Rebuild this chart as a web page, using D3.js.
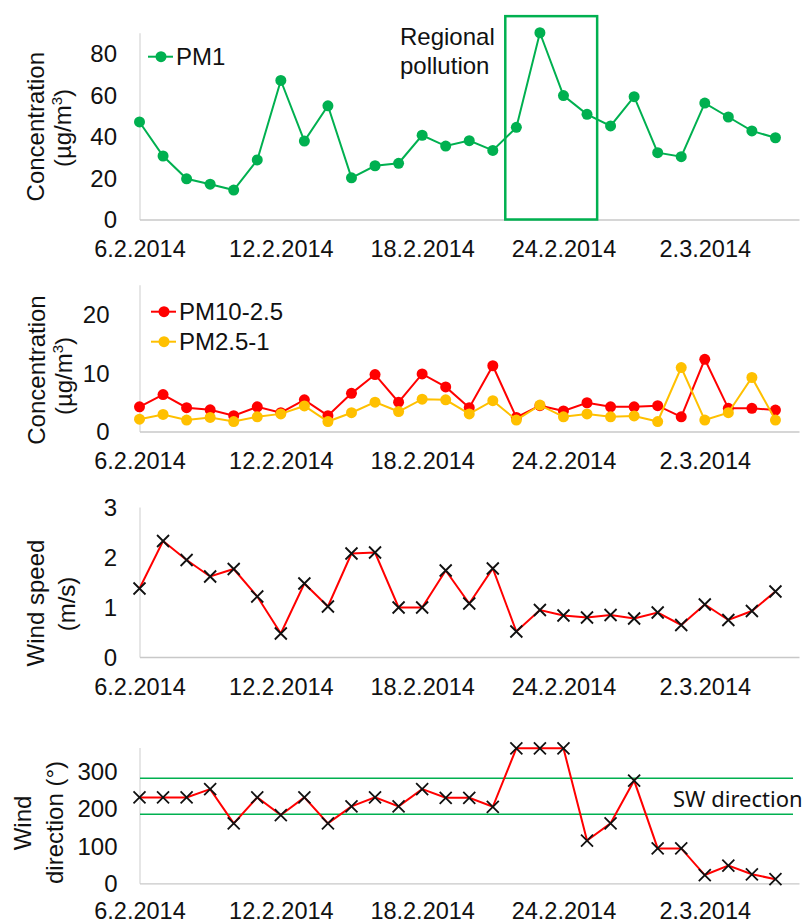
<!DOCTYPE html>
<html>
<head>
<meta charset="utf-8">
<script src="https://cdn.jsdelivr.net/npm/d3@7"></script>
<style>
  body { margin: 0; background: #fff; }
  svg text { font-family: "Liberation Sans", Arial, sans-serif; fill: #111; }
</style>
</head>
<body>
<div id="chart"></div>
<script>
// categories: one value per day, 6.2.2014 - 5.3.2014
var dates = d3.timeDays(new Date(2014, 1, 6), new Date(2014, 2, 6));
var tickLabels = ["6.2.2014", "12.2.2014", "18.2.2014", "24.2.2014", "2.3.2014"];

var pm1 = [47, 30.6, 19.6, 17, 14.2, 28.7, 67, 37.8, 54.8, 20.1, 25.9, 27.1, 40.6, 35.4,
  38, 33.3, 44.4, 90, 59.7, 50.7, 45.1, 59.2, 32.2, 30.3, 56.1, 49.4, 42.7, 39.4];
var pm10_25 = [4.2, 6.3, 4.05, 3.7, 2.7, 4.2, 3.2, 5.4, 2.7, 6.5, 9.7, 5, 9.8, 7.6,
  4.05, 11.2, 2.4, 4.4, 3.5, 4.9, 4.2, 4.2, 4.4, 2.5, 12.3, 3.95, 3.95, 3.65];
var pm25_1 = [2.1, 2.9, 1.95, 2.4, 1.7, 2.5, 3, 4.35, 1.7, 3.2, 5, 3.4, 5.5, 5.4,
  3, 5.25, 1.95, 4.5, 2.5, 3, 2.5, 2.65, 1.7, 10.9, 1.95, 3.2, 9.2, 1.95];
var windSpeed = [1.37, 2.32, 1.94, 1.61, 1.76, 1.21, 0.47, 1.47, 1.01, 2.07, 2.09, 0.99, 0.99, 1.73,
  1.07, 1.77, 0.51, 0.94, 0.83, 0.79, 0.84, 0.77, 0.89, 0.64, 1.05, 0.74, 0.92, 1.31];
var windDir = [229, 229, 229, 251, 160, 229, 182, 229, 160, 205, 229, 205, 251, 228,
  228, 204, 360, 360, 360, 114, 160, 274, 93, 93, 22, 47, 24, 11];

// regional pollution box (day index from, day index to, top value) and SW band (degrees)
var regionBox = [15.53, 19.43, 98];
var swBand = [184, 280];

var green = "#00b050", red = "#ff0000", yellow = "#ffc000", grid = "#d9d9d9";

var svg = d3.select("#chart").append("svg")
  .attr("width", 808)
  .attr("height", 924);

var parse = d3.timeParse("%d.%m.%Y");
var fmt = d3.timeFormat("%-d.%-m.%Y");

var x = d3.scaleTime()
  .domain([new Date(2014, 1, 6), new Date(2014, 2, 6)])
  .range([139.5, 799]);

var panels = [
  { name: "pm1", domain: [0, 90], range: [219.5, 32.75], ticks: [0, 20, 40, 60, 80], pad: 22.5, lab: 37.5 },
  { name: "pm", domain: [0, 25], range: [431.5, 284.75], ticks: [0, 10, 20], pad: 30, lab: 37.5 },
  { name: "ws", domain: [0, 3], range: [657, 507], ticks: [0, 1, 2, 3], pad: 22.5, lab: 37.5 },
  { name: "wd", domain: [0, 362], range: [883.3, 747.55], ticks: [0, 100, 200, 300], pad: 22, lab: 35.5 }
];

panels.forEach(function(p) {
  p.y = d3.scaleLinear().domain(p.domain).range(p.range);

  var gy = svg.append("g")
    .attr("transform", "translate(139.5,0)")
    .call(d3.axisLeft(p.y).tickValues(p.ticks).tickFormat(d3.format("d")).tickSize(0).tickPadding(p.pad));
  gy.select(".domain").attr("stroke", grid).attr("stroke-width", 1.3);
  gy.selectAll("text").attr("font-size", 24).attr("font-family", null).attr("dy", "0.35em");

  var gx = svg.append("g")
    .attr("transform", "translate(0," + p.range[0] + ")")
    .call(d3.axisBottom(x).tickValues(tickLabels.map(parse)).tickFormat(fmt).tickSize(0));
  gx.select(".domain").attr("stroke", "#c8c8c8").attr("stroke-width", 1.3);
  gx.selectAll("text").attr("font-size", 23.5).attr("font-family", null).attr("y", p.lab).attr("dy", 0);
});

function series(p, values, color, marker) {
  var line = d3.line()
    .x(function(d, i) { return x(dates[i]); })
    .y(function(d) { return p.y(d); });
  var g = svg.append("g");
  g.append("path")
    .datum(values)
    .attr("d", line)
    .attr("fill", "none")
    .attr("stroke", color)
    .attr("stroke-width", 2);
  if (marker == "dot") {
    g.selectAll("circle")
      .data(values)
      .enter().append("circle")
      .attr("cx", function(d, i) { return x(dates[i]); })
      .attr("cy", function(d) { return p.y(d); })
      .attr("r", 5.5)
      .attr("fill", color);
  } else {
    g.selectAll("path.cross")
      .data(values)
      .enter().append("path")
      .attr("class", "cross")
      .attr("transform", function(d, i) { return "translate(" + x(dates[i]) + "," + p.y(d) + ")"; })
      .attr("d", "M-6,-6L6,6M-6,6L6,-6")
      .attr("stroke", "#111")
      .attr("stroke-width", 1.8);
  }
}

// panel 1: PM1 with regional pollution box
var p1 = panels[0];
var dayX = d3.scaleLinear().domain([0, 28]).range(x.range());
svg.append("rect")
  .attr("x", dayX(regionBox[0]))
  .attr("y", p1.y(regionBox[2]))
  .attr("width", dayX(regionBox[1]) - dayX(regionBox[0]))
  .attr("height", p1.y(0) - p1.y(regionBox[2]))
  .attr("fill", "none")
  .attr("stroke", green)
  .attr("stroke-width", 2.5);
series(p1, pm1, green, "dot");
svg.append("text").attr("x", 400).attr("y", 45).attr("font-size", 24).text("Regional");
svg.append("text").attr("x", 400).attr("y", 74).attr("font-size", 24).text("pollution");

// panel 2: coarse fractions
series(panels[1], pm10_25, red, "dot");
series(panels[1], pm25_1, yellow, "dot");

// panel 3 and 4: wind
series(panels[2], windSpeed, red, "cross");
var p4 = panels[3];
svg.selectAll("line.sw")
  .data(swBand)
  .enter().append("line")
  .attr("class", "sw")
  .attr("x1", 140).attr("x2", 793)
  .attr("y1", function(d) { return p4.y(d); })
  .attr("y2", function(d) { return p4.y(d); })
  .attr("stroke", green)
  .attr("stroke-width", 1.5);
series(p4, windDir, red, "cross");
svg.append("text")
  .attr("x", 673).attr("y", 806.5)
  .attr("font-size", 22)
  .style("font-family", "'Noto Sans', sans-serif")
  .text("SW direction");

// legends
function legendItem(lx, ly, color, label) {
  svg.append("line")
    .attr("x1", lx - 13).attr("x2", lx + 12)
    .attr("y1", ly).attr("y2", ly)
    .attr("stroke", color).attr("stroke-width", 2);
  svg.append("circle").attr("cx", lx).attr("cy", ly).attr("r", 5.5).attr("fill", color);
  svg.append("text")
    .attr("x", lx + 15).attr("y", ly)
    .attr("dy", "0.35em")
    .attr("font-size", 24)
    .text(label);
}
legendItem(161, 56.7, green, "PM1");
legendItem(164, 311.7, red, "PM10-2.5");
legendItem(164, 341.7, yellow, "PM2.5-1");

// rotated y titles, each line: baseline x, center y, text
function yTitle(bx, cy, txt, sup) {
  var t = svg.append("text")
    .attr("transform", "translate(" + bx + "," + cy + ") rotate(-90)")
    .attr("text-anchor", "middle")
    .attr("font-size", 24);
  if (sup) {
    t.append("tspan").text(txt);
    t.append("tspan").attr("font-size", 15).attr("dy", -9).text(sup);
    t.append("tspan").attr("dy", 9).text(")");
  } else {
    t.text(txt);
  }
}
yTitle(43.5, 126.7, "Concentration");
yTitle(71, 128, "(µg/m", "3");
yTitle(44.5, 370, "Concentration");
yTitle(72, 376, "(µg/m", "3");
yTitle(44, 603, "Wind speed");
yTitle(75, 604, "(m/s)");
yTitle(30.5, 823, "Wind");
yTitle(62.5, 822.5, "direction (°)");
</script>
</body>
</html>
